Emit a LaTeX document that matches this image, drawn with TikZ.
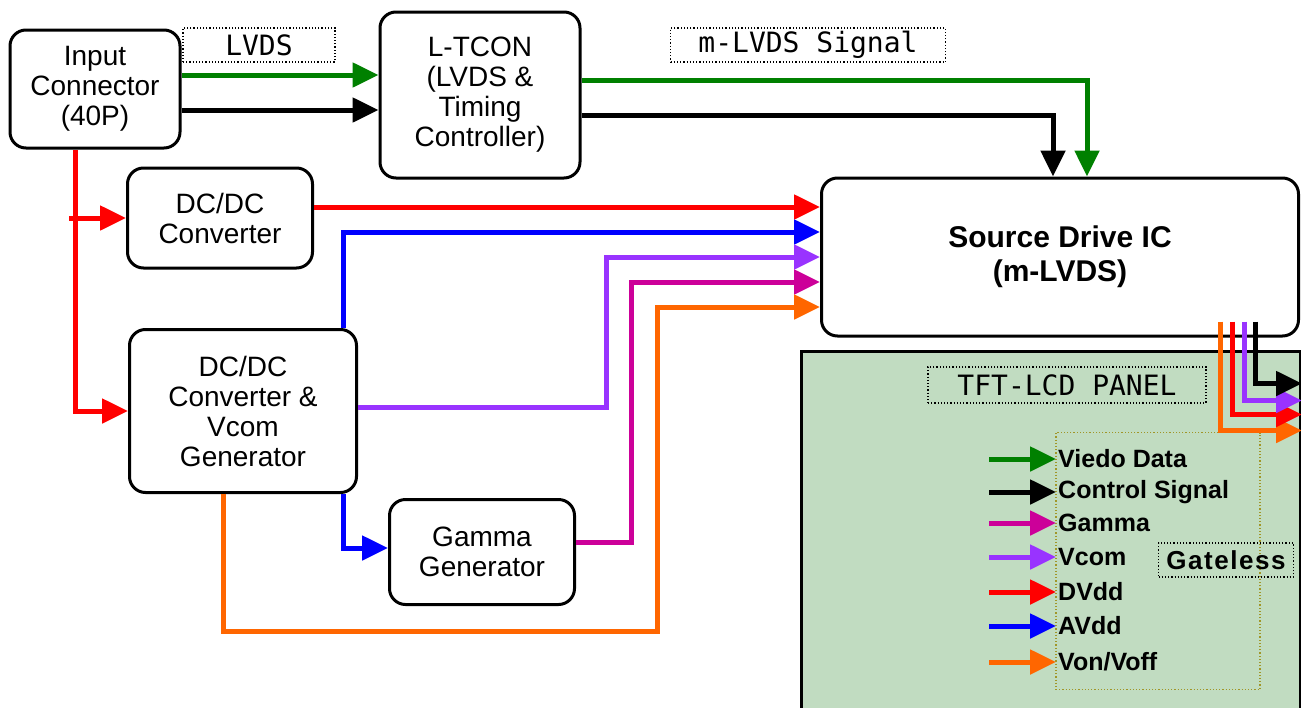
\documentclass[tikz,border=0pt]{standalone}
\usepackage{fontspec}
\setmainfont{Liberation Sans}
\newfontfamily\monofam{DejaVu Sans Mono}
\newfontfamily\gatefam[LetterSpace=6]{Liberation Sans}
\usepackage{xcolor}
\usepackage{tikz}
\usetikzlibrary{arrows.meta,positioning}

\definecolor{vgreen}{RGB}{0,128,0}
\definecolor{vcom}{RGB}{153,51,255}
\definecolor{gam}{RGB}{204,0,153}
\definecolor{von}{RGB}{255,102,0}
\definecolor{panelgreen}{RGB}{193,220,193}
\definecolor{olive}{RGB}{160,150,40}

\newcommand\blkfont{\fontsize{28}{30}\selectfont}
\newcommand\lblfont{\monofam\fontsize{28}{30}\selectfont}
\newcommand\keyfont{\bfseries\fontsize{25}{28}\selectfont}

\begin{document}
\begin{tikzpicture}[x=1pt, y=-1pt,
    blk/.style={draw, line width=3pt, rounded corners=16pt, fill=white, align=center, inner sep=0pt, font=\blkfont},
    lbl/.style={draw, dotted, line width=1.2pt, inner sep=0pt, font=\lblfont},
    key/.style={inner sep=2pt, anchor=west, font=\keyfont},
    sig/.style={line width=5pt, -{Triangle[length=26pt,width=24pt]}},
    wire/.style={line width=5pt}
]
\useasboundingbox (0,0) rectangle (1301,707);

% Blocks on the left
\node[blk, minimum width=170, minimum height=118] (inp) at (95,89) {Input\\Connector\\(40P)};
\node[blk, minimum width=200, minimum height=166] (tcon) at (480,95) {L-TCON\\(LVDS \&\\Timing\\Controller)};
\node[blk, minimum width=185, minimum height=100] (dc1) at (220,218) {DC/DC\\Converter};
\node[blk, minimum width=227, minimum height=163] (dc2) at (243,411) {DC/DC\\Converter \&\\Vcom\\Generator};
\node[blk, minimum width=185, minimum height=105] (gam) at (482,552) {Gamma\\Generator};

% Panel and source driver
\node[draw, line width=3pt, fill=panelgreen, minimum width=499, minimum height=360, inner sep=0pt, anchor=north west] (panel) at (800,350) {};
\node[blk, minimum width=477, minimum height=158, font=\bfseries\fontsize{30}{34}\selectfont] (src) at (1060,257) {Source Drive IC\\(m-LVDS)};

% Dotted labels
\node[lbl, minimum width=152, minimum height=34] (lvds) at (259,45) {LVDS};
\node[lbl, minimum width=275, minimum height=34] (mlvds) at (808,45) {m-LVDS Signal};
\node[lbl, minimum width=278, minimum height=36] (tft) at (1067,385) {TFT-LCD PANEL};
\node[draw, dotted, olive, line width=1.2pt, minimum width=204, minimum height=257, inner sep=0pt] (legend) at (1158,561) {};
\node[lbl, minimum width=135, minimum height=34, font=\gatefam\bfseries\fontsize{26}{28}\selectfont] (gate) at (1226,560) {Gateless};

% Input -> L-TCON
\coordinate (g1) at ([yshift=14]inp.east);
\coordinate (k1) at ([yshift=-21]inp.east);
\draw[sig, vgreen] (g1) -- (g1 -| tcon.west);
\draw[sig, black] (k1) -- (k1 -| tcon.west);

% L-TCON -> source
\draw[sig, vgreen] ([yshift=15]tcon.east) -| ([xshift=27]src.north);
\draw[sig, black] ([yshift=-20]tcon.east) -| ([xshift=-7]src.north);

% Power tree
\coordinate (rtop) at ([xshift=-20]inp.south);
\draw[sig, red] (rtop) |- (dc2.west);
\draw[sig, red] ([xshift=-6]rtop |- dc1.west) -- (dc1.west);

\coordinate (rin) at ([yshift=50]src.west);
\coordinate (bin) at ([yshift=25]src.west);
\coordinate (min) at ([yshift=-25]src.west);
\coordinate (oin) at ([yshift=-50]src.west);
\draw[sig, red] (rin -| dc1.east) -- (rin);
\draw[sig, blue] ([xshift=100]dc2.north) |- (bin);
\draw[sig, vcom] ([yshift=4]dc2.east) -- ++(248,0) |- (src.west);
\draw[sig, gam] ([yshift=10]gam.east) -- ++(55,0) |- (min);
\draw[sig, von] ([xshift=-20]dc2.south) -- ++(0,137) -- ++(434,0) |- (oin);
\draw[sig, blue] ([xshift=100]dc2.south) |- ([yshift=4]gam.west);

% Source -> panel
\draw[sig, von] ([xshift=-80,yshift=16]src.south east) |- ([yshift=101]panel.east);
\draw[sig, red] ([xshift=-68,yshift=16]src.south east) |- ([yshift=117]panel.east);
\draw[sig, vcom] ([xshift=-56,yshift=16]src.south east) |- ([yshift=131]panel.east);
\draw[sig, black] ([xshift=-45,yshift=16]src.south east) |- ([yshift=148]panel.east);

% Legend
\foreach \c/\t/\y [count=\i] in {vgreen/Viedo Data/459, black/Control Signal/492, gam/Gamma/523, vcom/Vcom/557, red/DVdd/592, blue/AVdd/626, von/{Von/Voff}/662}{
  \node[key] (key\i) at (1056,\y) {\t};
  \draw[sig, \c] ([xshift=-67]key\i.west) -- (key\i.west);
}
\end{tikzpicture}
\end{document}
